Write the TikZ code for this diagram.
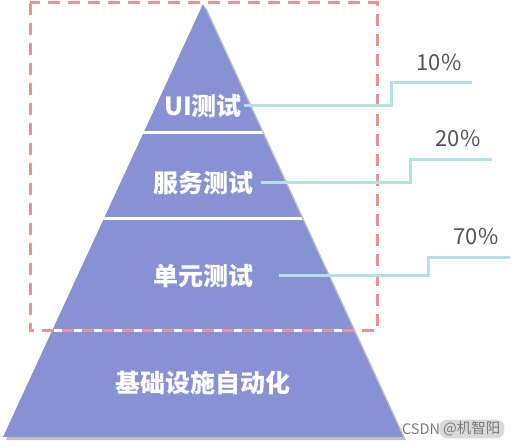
\documentclass[tikz,border=0pt]{standalone}
\usepackage{fontspec}
\setmainfont{Noto Sans CJK SC}
\usepackage{xcolor}
\usepackage{tikz}
\usetikzlibrary{calc,shadows}
\definecolor{layer}{HTML}{8692D4}
\definecolor{frame}{HTML}{E89494}
\definecolor{link}{HTML}{B0E2E8}
\definecolor{pct}{HTML}{555555}
\definecolor{mark}{HTML}{7A7A7A}
\tikzset{
  layerFill/.style={fill=layer, drop shadow={shadow xshift=3pt, shadow yshift=-3pt, opacity=0.35, fill=black!70}},
  sepLine/.style={draw=white, line width=3pt},
  frameBox/.style={draw=frame, line width=3pt, dash pattern=on 12pt off 8pt},
  linkLine/.style={draw=link, line width=3pt},
  layerLbl/.style={text=white, font=\fontsize{25}{28}\selectfont\bfseries, inner sep=1pt},
  pctLbl/.style={text=pct, font=\fontsize{22}{24}\selectfont, inner sep=0pt},
  markLbl/.style={text=mark, font=\fontsize{14.5}{16}\selectfont, inner sep=0pt},
}
\begin{document}
\begin{tikzpicture}[x=1pt, y=-1pt]
  \useasboundingbox (0,0) rectangle (517,446);

  % pyramid
  \coordinate (top) at (203,4);
  \coordinate (bl) at (3,437);
  \coordinate (br) at (403,437);
  \path[layerFill] (top)--(br)--(bl)--cycle;

  \begin{scope}
    \clip (top)--(br)--(bl)--cycle;
    \draw[sepLine] (0,133) -- (517,133);
    \draw[sepLine] (0,219) -- (517,219);
    \draw[sepLine] (0,331) -- (517,331);
  \end{scope}

  % dashed frame
  \draw[frameBox] (30,3) rectangle (377,331);

  \node[layerLbl] (ui)   at (203,106) {UI测试};
  \node[layerLbl] (svc)  at (203,183) {服务测试};
  \node[layerLbl] (unit) at (203,276) {单元测试};
  \node[layerLbl] (base) at (203,383) {基础设施自动化};

  \node[pctLbl] (p1) at (439,62)  {10\%};
  \node[pctLbl] (p2) at (458,138) {20\%};
  \node[pctLbl] (p3) at (476,236) {70\%};

  \coordinate (s1) at ([xshift=1pt]ui.east);
  \coordinate (s2) at ([xshift=7pt]svc.east);
  \coordinate (s3) at ([xshift=25pt]unit.east);
  \coordinate (k1) at (391,83);  \coordinate (e1) at (472,83);
  \coordinate (k2) at (410,160); \coordinate (e2) at (492,160);
  \coordinate (k3) at (428,258); \coordinate (e3) at (510,258);

  \draw[linkLine] (s1) -- (s1 -| k1) -- (k1) -- (e1);
  \draw[linkLine] (s2) -- (s2 -| k2) -- (k2) -- (e2);
  \draw[linkLine] (s3) -- (s3 -| k3) -- (k3) -- (e3);

  % watermark
  \node[markLbl] (csdn) at (421,429) {CSDN};
  \node[markLbl, fill=black!15, rounded corners=8pt, inner xsep=4pt, inner ysep=2pt, right=0pt] (user) at (439,429) {@机智阳};
\end{tikzpicture}
\end{document}
